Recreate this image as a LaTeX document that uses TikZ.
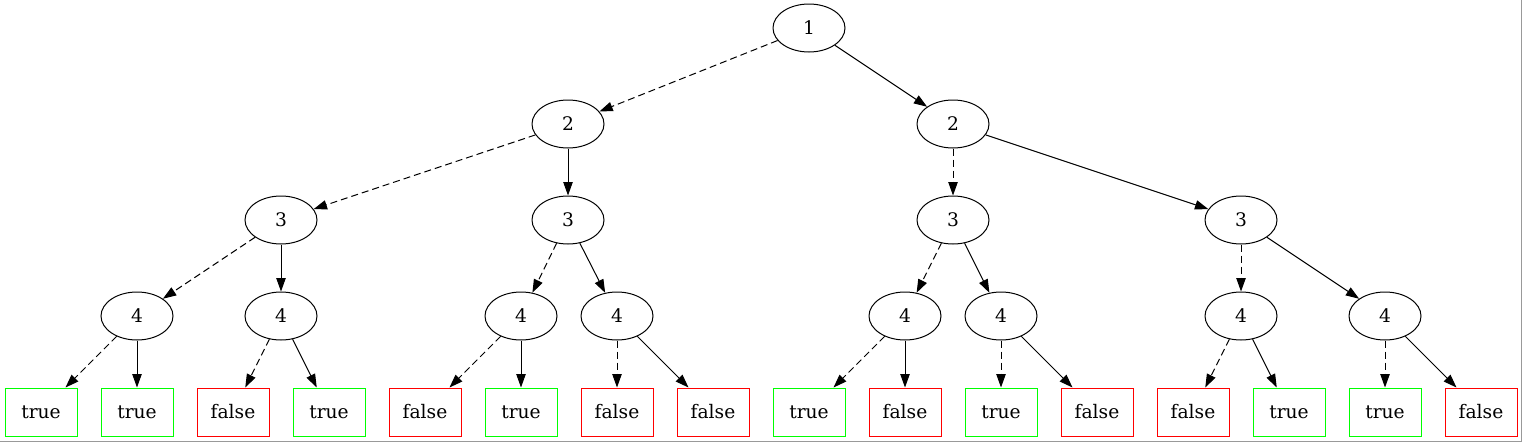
\documentclass[tikz,border=0pt]{standalone}
\usepackage{fontspec}
\setmainfont{DejaVu Serif}
\usetikzlibrary{shapes.geometric,arrows.meta}
\definecolor{tgreen}{HTML}{00FF00}
\definecolor{fred}{HTML}{FF0000}
\tikzset{
  var/.style={draw, ellipse, line width=0.75pt, minimum width=54pt, minimum height=36pt, inner sep=0pt, font=\fontsize{14}{16}\selectfont},
  leaf/.style={draw, rectangle, line width=0.75pt, minimum width=54pt, minimum height=36pt, inner sep=0pt, font=\fontsize{14}{16}\selectfont},
  tleaf/.style={leaf, draw=tgreen},
  fleaf/.style={leaf, draw=fred},
  edge/.style={line width=0.75pt, -{Triangle[length=10pt,width=7pt]}},
  lo/.style={edge, dash pattern=on 5.25pt off 3pt},
  hi/.style={edge}
}
\begin{document}
\begin{tikzpicture}[x=0.75pt,y=-0.75pt]
\useasboundingbox (0,0) rectangle (1523,443);
\draw[line width=1.2pt, color=black!40] (1521.5,0) -- (1521.5,441.5) -- (0,441.5);
% level 0
\node[var] (n1) at (809,28) {1};
% level 1
\node[var] (a2) at (568,124) {2};
\node[var] (b2) at (953,124) {2};
% level 2
\node[var] (a3) at (281,220) {3};
\node[var] (b3) at (568,220) {3};
\node[var] (c3) at (953,220) {3};
\node[var] (d3) at (1241,220) {3};
% level 3
\node[var] (a4) at (137,316) {4};
\node[var] (b4) at (281,316) {4};
\node[var] (c4) at (521,316) {4};
\node[var] (d4) at (617,316) {4};
\node[var] (e4) at (905,316) {4};
\node[var] (f4) at (1001,316) {4};
\node[var] (g4) at (1241,316) {4};
\node[var] (h4) at (1385,316) {4};
% leaves
\node[tleaf] (l1) at (41,412) {true};
\node[tleaf] (l2) at (137,412) {true};
\node[fleaf] (l3) at (233,412) {false};
\node[tleaf] (l4) at (329,412) {true};
\node[fleaf] (l5) at (425,412) {false};
\node[tleaf] (l6) at (521,412) {true};
\node[fleaf] (l7) at (617,412) {false};
\node[fleaf] (l8) at (713,412) {false};
\node[tleaf] (l9) at (809,412) {true};
\node[fleaf] (l10) at (905,412) {false};
\node[tleaf] (l11) at (1001,412) {true};
\node[fleaf] (l12) at (1097,412) {false};
\node[fleaf] (l13) at (1193,412) {false};
\node[tleaf] (l14) at (1289,412) {true};
\node[tleaf] (l15) at (1385,412) {true};
\node[fleaf] (l16) at (1481,412) {false};
% edges
\draw[lo] (n1) -- (a2);
\draw[hi] (n1) -- (b2);
\draw[lo] (a2) -- (a3);
\draw[hi] (a2) -- (b3);
\draw[lo] (b2) -- (c3);
\draw[hi] (b2) -- (d3);
\draw[lo] (a3) -- (a4);
\draw[hi] (a3) -- (b4);
\draw[lo] (b3) -- (c4);
\draw[hi] (b3) -- (d4);
\draw[lo] (c3) -- (e4);
\draw[hi] (c3) -- (f4);
\draw[lo] (d3) -- (g4);
\draw[hi] (d3) -- (h4);
\draw[lo] (a4) -- (l1);
\draw[hi] (a4) -- (l2);
\draw[lo] (b4) -- (l3);
\draw[hi] (b4) -- (l4);
\draw[lo] (c4) -- (l5);
\draw[hi] (c4) -- (l6);
\draw[lo] (d4) -- (l7);
\draw[hi] (d4) -- (l8);
\draw[lo] (e4) -- (l9);
\draw[hi] (e4) -- (l10);
\draw[lo] (f4) -- (l11);
\draw[hi] (f4) -- (l12);
\draw[lo] (g4) -- (l13);
\draw[hi] (g4) -- (l14);
\draw[lo] (h4) -- (l15);
\draw[hi] (h4) -- (l16);
\end{tikzpicture}
\end{document}
